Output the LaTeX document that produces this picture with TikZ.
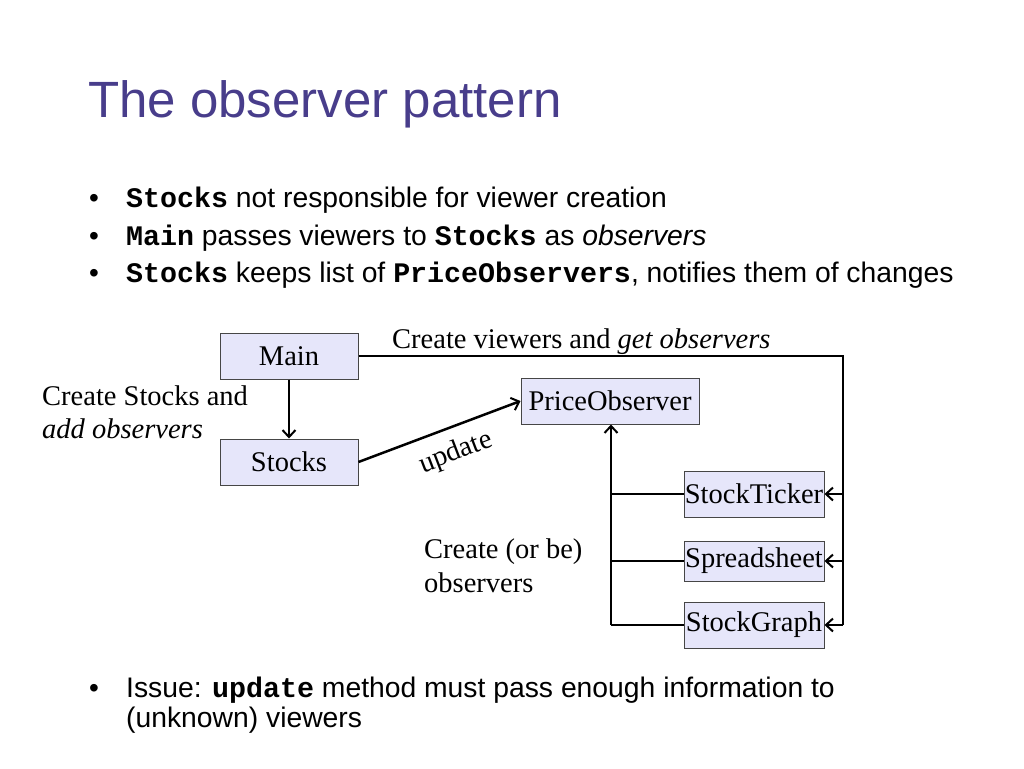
\documentclass[tikz,border=0pt]{standalone}
\usepackage{fontspec}
\setmainfont{Liberation Serif}
\newfontfamily\sansf{Liberation Sans}
\newfontfamily\monof{Liberation Mono}
\usetikzlibrary{arrows.meta}
\definecolor{titleblue}{RGB}{72,61,139}
\definecolor{boxfill}{RGB}{230,230,250}
\definecolor{boxline}{RGB}{70,70,70}
\newcommand{\cd}[1]{{\monof\bfseries #1}}
\begin{document}
\begin{tikzpicture}[x=1pt,y=-1pt,
  cls/.style={draw=boxline,fill=boxfill,line width=1pt,inner sep=0pt,font=\fontsize{28.5}{32}\selectfont},
  conn/.style={line width=2.5pt,draw=black},
  arr/.style={conn,-{Straight Barb[length=7pt,width=13pt,line width=2pt]}},
  bul/.style={anchor=base west,inner sep=0pt,font=\sansf\fontsize{28.3}{32}\selectfont},
  lab/.style={anchor=base west,inner sep=0pt,font=\fontsize{28.5}{32}\selectfont}]
\useasboundingbox[fill=white] (0,0) rectangle (1024,768);
% title
\node[anchor=base west,inner sep=0pt,text=titleblue,font=\sansf\fontsize{51}{56}\selectfont] (title) at (88,117) {The observer pattern};
% bullets
\node[bul] (b1) at (126,207) {\cd{Stocks} not responsible for viewer creation};
\node[bul] (b2) at (126,245) {\cd{Main} passes viewers to \cd{Stocks} as \textit{observers}};
\node[bul] (b3) at (126,282) {\cd{Stocks} keeps list of \cd{PriceObservers}, notifies them of changes};
\node[bul] (b4) at (126,697) {Issue: \cd{update} method must pass enough information to};
\node[bul] (b5) at (126,727) {(unknown) viewers};
\foreach \y/\n in {207/d1,245/d2,282/d3,697/d4}{
  \node[anchor=base,inner sep=0pt,font=\sansf\fontsize{28}{32}\selectfont] (\n) at (94,\y) {\textbullet};
}
% boxes
\node[cls,minimum width=138pt,minimum height=46pt] (main) at (289,356) {Main};
\node[cls,minimum width=138pt,minimum height=46pt] (stocks) at (289,462) {Stocks};
\node[cls,minimum width=178pt,minimum height=46pt] (po) at (610,401) {PriceObserver};
\node[cls,minimum width=140pt,minimum height=46pt] (st) at (754,494) {StockTicker};
\node[cls,minimum width=140pt,minimum height=40pt] (ss) at (754,561) {Spreadsheet};
\node[cls,minimum width=140pt,minimum height=46pt] (sg) at (754,625) {StockGraph};
% coordinates
\coordinate (rtop) at (843,356);
\coordinate (lbot) at (611,625);
% connectors
\draw[arr] (main) -- (stocks);
\draw[arr] (stocks.east) -- (po.west);
\draw[conn] (main.east) -- (rtop) -- (rtop |- sg.east);
\draw[arr] (rtop |- st.east) -- (st.east);
\draw[arr] (rtop |- ss.east) -- (ss.east);
\draw[arr] (rtop |- sg.east) -- (sg.east);
\draw[arr] (lbot) -- (lbot |- po.south);
\draw[conn] (lbot |- st.west) -- (st.west);
\draw[conn] (lbot |- ss.west) -- (ss.west);
\draw[conn] (lbot) -- (sg.west);
% labels
\node[lab] (l1) at (392,348) {Create viewers and \textit{get observers}};
\node[lab] (l2) at (42,405) {Create Stocks and};
\node[lab] (l3) at (42,438) {\textit{add observers}};
\node[lab] (l4) at (424,558) {Create (or be)};
\node[lab] (l5) at (424,592) {observers};
\node[inner sep=0pt,rotate=21,font=\fontsize{28.5}{32}\selectfont] (upd) at (456,453) {update};
\end{tikzpicture}
\end{document}
